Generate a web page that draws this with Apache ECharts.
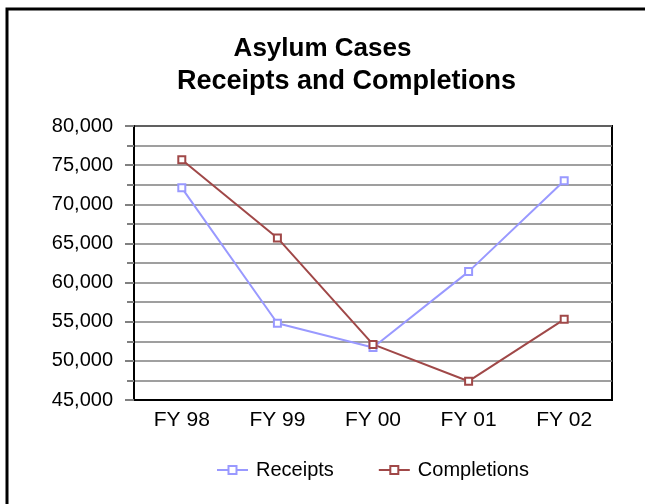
<!DOCTYPE html>
<html>
<head>
<meta charset="utf-8">
<script src="https://cdn.jsdelivr.net/npm/echarts@6/dist/echarts.min.js"></script>
<style>
  html, body { margin: 0; padding: 0; background: #fff; }
  #main { width: 645px; height: 504px; }
</style>
</head>
<body>
<div id="main"></div>
<script>
var categories = ['FY 98', 'FY 99', 'FY 00', 'FY 01', 'FY 02'];
var receipts = [72100, 54800, 51700, 61400, 73000];
var completions = [75700, 65700, 52100, 47400, 55300];

var font = "'Liberation Sans', Arial, sans-serif";

var myChart = echarts.init(document.getElementById('main'));

var titleStyle = {
  fontFamily: font,
  fontSize: 26,
  fontWeight: 'bold',
  color: '#000'
};

var option = {
  animation: false,
  backgroundColor: '#fff',
  title: [
    {
      text: 'Asylum Cases',
      left: 'center',
      top: 31,
      textStyle: titleStyle
    },
    {
      text: 'Receipts and Completions',
      left: 172,
      top: 63,
      textStyle: Object.assign({}, titleStyle, { fontSize: 27 })
    }
  ],
  graphic: [
    {
      type: 'rect',
      shape: { x: 7, y: 9, width: 700, height: 600 },
      style: { fill: null, stroke: '#000', lineWidth: 3 },
      silent: true
    }
  ],
  legend: {
    left: 211,
    top: 455,
    itemWidth: 31,
    itemHeight: 10,
    itemGap: 44,
    textStyle: { fontFamily: font, fontSize: 20, color: '#000', padding: [0, 0, 0, 3] },
    data: ['Receipts', 'Completions']
  },
  grid: {
    left: 134,
    right: 33,
    top: 126,
    bottom: 104,
    show: true,
    borderColor: '#000',
    borderWidth: 2
  },
  xAxis: {
    type: 'category',
    data: categories,
    axisLine: { lineStyle: { color: '#000', width: 2 } },
    axisTick: { alignWithLabel: true, length: 6, lineStyle: { color: '#808080', width: 2 } },
    axisLabel: { fontFamily: font, fontSize: 21, color: '#000', margin: 10 }
  },
  yAxis: {
    type: 'value',
    min: 45000,
    max: 80000,
    interval: 5000,
    axisLine: { show: true, lineStyle: { color: '#000', width: 2 } },
    axisTick: { show: true, length: 9, lineStyle: { color: '#808080', width: 2 } },
    minorTick: { show: true, splitNumber: 2, length: 7, lineStyle: { color: '#808080', width: 2 } },
    splitLine: { show: true, lineStyle: { color: '#808080', width: 1.5 } },
    minorSplitLine: { show: true, lineStyle: { color: '#808080', width: 1.5 } },
    axisLabel: {
      fontFamily: font,
      fontSize: 20,
      color: '#000',
      margin: 21,
      formatter: function (v) { return v.toLocaleString('en-US'); }
    }
  },
  series: [
    {
      name: 'Receipts',
      type: 'line',
      data: receipts,
      color: '#9999FF',
      symbol: 'emptyRect',
      symbolSize: 7,
      lineStyle: { width: 2 },
      itemStyle: { borderWidth: 2 }
    },
    {
      name: 'Completions',
      type: 'line',
      data: completions,
      color: '#A04848',
      symbol: 'emptyRect',
      symbolSize: 7,
      lineStyle: { width: 2 },
      itemStyle: { borderWidth: 2 }
    }
  ]
};

myChart.setOption(option);
</script>
</body>
</html>
